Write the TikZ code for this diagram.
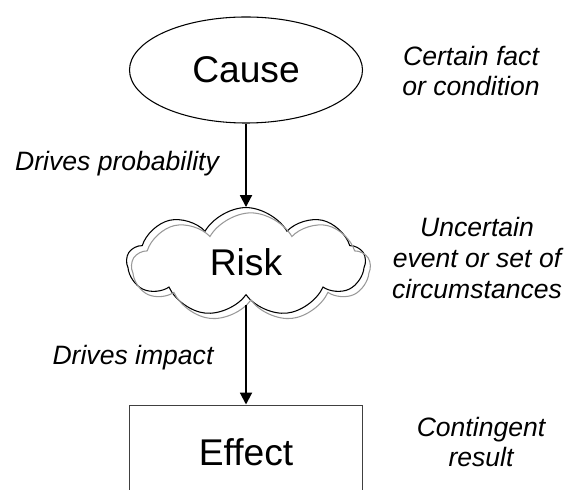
\documentclass[tikz,border=0pt]{standalone}
\usepackage{fontspec}
\setmainfont{Liberation Sans}
\usepackage{tikz}
\usetikzlibrary{shapes.geometric,shapes.symbols,arrows.meta,positioning,calc}
\tikzstyle{ELLIPSE_1} = [ellipse, draw=black, line width=0.8pt, minimum width=6.165cm, minimum height=2.805cm, inner sep=0pt, font=\fontsize{28}{34}\selectfont]
\tikzstyle{CLOUD_1} = [cloud, draw=black, line width=0.8pt, cloud puffs=9, cloud puff arc=120, aspect=1.7, minimum width=6.3cm, minimum height=2.88cm, inner sep=0pt, font=\fontsize{28}{34}\selectfont]
\tikzstyle{CLOUD_2} = [CLOUD_1, draw=gray!80]
\tikzstyle{RECTANGLE_1} = [rectangle, draw=black!75, line width=0.8pt, minimum width=6.165cm, minimum height=2.49cm, inner sep=0pt, font=\fontsize{28}{34}\selectfont]
\tikzstyle{LABEL} = [align=center, font=\fontsize{20}{23}\selectfont\itshape]
\tikzstyle{ARROW} = [line width=1.5pt, -{Triangle[length=9pt,width=9pt]}]

\begin{document}
\begin{tikzpicture}[node distance = 5.05cm, auto]
% Frame
\useasboundingbox (-6.509,1.852) rectangle (8.440,-11.112);
\clip (-6.509,1.852) rectangle (8.440,-11.112);
% Place node
\node [ELLIPSE_1] (CAUSE) {Cause};
\node [CLOUD_1, below of=CAUSE, node distance=5.08cm] (RISK) {Risk};
\node [CLOUD_2] (RISK_SHADOW) at ($(RISK)+(0.13,-0.14)$) {\phantom{Risk}};
\node [RECTANGLE_1, below of=RISK, node distance=5.03cm] (EFFECT) {Effect};
% Labels
\node [LABEL] (L_CAUSE) at (5.953,-0.026) {Certain fact\\or condition};
\node [LABEL] (L_RISK) at (6.112,-4.974) {Uncertain\\event or set of\\circumstances};
\node [LABEL] (L_EFFECT) at (6.218,-9.842) {Contingent\\result};
\node [LABEL] (L_PROB) at (-3.413,-2.487) {Drives probability};
\node [LABEL] (L_IMPACT) at (-2.990,-7.620) {Drives impact};
% LINES and ARROWS
\path [draw, ARROW] (CAUSE.south) -- (RISK.north);
\path [draw, ARROW, shorten <=0.24cm] (RISK.south) -- (EFFECT.north);
\end{tikzpicture}
\end{document}
